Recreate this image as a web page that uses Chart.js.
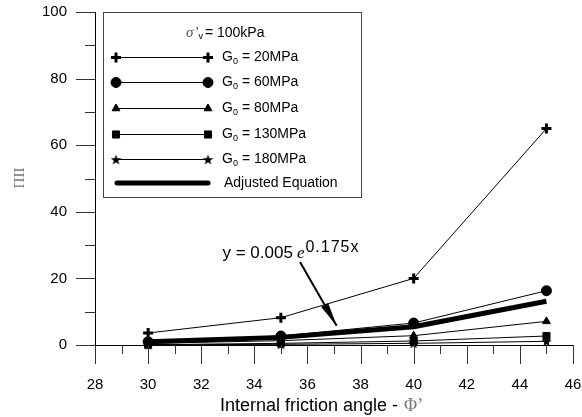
<!DOCTYPE html>
<html>
<head>
<meta charset="utf-8">
<script src="https://cdn.jsdelivr.net/npm/chart.js@4.4.0/dist/chart.umd.min.js"></script>
<style>
  html, body { margin: 0; padding: 0; background: #fff; }
  #wrap { width: 582px; height: 417px; }
</style>
</head>
<body>
<div id="wrap"><canvas id="chart" width="582" height="417"></canvas></div>
<script>
// friction angle (deg) on x, Pi_II on y
const angles = [30, 35, 40, 45];
const g20 = [3.6, 8.2, 20.0, 65.0];
const g60 = [1.0, 2.7, 6.6, 16.3];
const g80 = [0.5, 1.3, 2.8, 7.1];
const g130 = [0.1, 0.5, 1.2, 2.7];
const g180 = [0.05, 0.2, 0.5, 1.1];
const fitted = [0.95, 2.29, 5.48, 13.15];

const xTicks = [28, 30, 32, 34, 36, 38, 40, 42, 44, 46];
const yTicks = [0, 20, 40, 60, 80, 100];

const legendLabels = ['20MPa', '60MPa', '80MPa', '130MPa', '180MPa'];

const FONT = '"Liberation Sans", Arial, Helvetica, sans-serif';
const SERIF = '"Liberation Serif", "DejaVu Serif", serif';

// filled five point star, used as pointStyle
function makeStar(size) {
    const c = document.createElement('canvas');
    c.width = size; c.height = size;
    const g = c.getContext('2d');
    const cx = size / 2, cy = size / 2 + 0.5, R = size / 2, r = R * 0.42;
    g.beginPath();
    for (let i = 0; i < 10; i++) {
        const rad = i % 2 === 0 ? R : r;
        const a = -Math.PI / 2 + i * Math.PI / 5;
        g.lineTo(cx + rad * Math.cos(a), cy + rad * Math.sin(a));
    }
    g.closePath();
    g.fillStyle = '#000';
    g.fill();
    return c;
}
const star = makeStar(11);

function pts(ys) {
    return angles.map((a, i) => ({ x: a, y: ys[i] }));
}

const markers = [
    { pointStyle: 'cross', radius: 5, borderWidth: 3 },
    { pointStyle: 'circle', radius: 5, borderWidth: 1 },
    { pointStyle: 'triangle', radius: 4.5, borderWidth: 1 },
    { pointStyle: 'rect', radius: 5, borderWidth: 1 },
    { pointStyle: star, radius: 5, borderWidth: 1 }
];

const series = [g20, g60, g80, g130, g180];

const datasets = [{
    label: 'Adjusted Equation',
    data: pts(fitted),
    borderColor: '#000',
    borderWidth: 5,
    pointRadius: 0,
    fill: false,
    tension: 0,
    clip: false,
    order: 2
}];
series.forEach((s, i) => {
    datasets.push({
        label: 'G0 = ' + legendLabels[i],
        data: pts(s),
        borderColor: '#000',
        backgroundColor: '#000',
        borderWidth: 1,
        pointStyle: markers[i].pointStyle,
        pointRadius: markers[i].radius,
        pointBorderWidth: markers[i].borderWidth,
        pointBackgroundColor: '#000',
        pointBorderColor: '#000',
        fill: false,
        tension: 0,
        clip: false,
        order: 1
    });
});

function noPad(s) {
    s.paddingTop = 0;
    s.paddingBottom = 0;
    s.paddingLeft = 0;
    s.paddingRight = 0;
}

// minor + major tick marks, axis titles, legend box, equation note
const decor = {
    id: 'decor',
    afterDraw(chart) {
        const ctx = chart.ctx;
        const xs = chart.scales.x, ys = chart.scales.y;
        const area = chart.chartArea;
        ctx.save();
        ctx.strokeStyle = '#333';
        ctx.lineWidth = 1;
        for (let v = 28; v <= 46; v++) {
            const px = Math.round(xs.getPixelForValue(v)) + 0.5;
            const len = v % 2 === 0 ? 19 : 9;
            ctx.beginPath();
            ctx.moveTo(px, area.bottom);
            ctx.lineTo(px, area.bottom + len);
            ctx.stroke();
        }
        for (let v = 0; v <= 100; v += 10) {
            const py = Math.round(ys.getPixelForValue(v)) + 0.5;
            const len = v % 20 === 0 ? 19 : 10;
            ctx.beginPath();
            ctx.moveTo(area.left, py);
            ctx.lineTo(area.left - len, py);
            ctx.stroke();
        }

        // x title
        ctx.fillStyle = '#000';
        ctx.textBaseline = 'alphabetic';
        const t1 = 'Internal friction angle - ';
        ctx.font = '18px ' + FONT;
        const w1 = ctx.measureText(t1).width;
        ctx.font = '18px ' + SERIF;
        const w2 = ctx.measureText('\u03A6\u2019').width;
        const startX = (area.left + area.right) / 2 - (w1 + w2) / 2 - 13;
        ctx.font = '18px ' + FONT;
        ctx.fillText(t1, startX, 411);
        ctx.fillStyle = '#777';
        ctx.font = '18px ' + SERIF;
        ctx.fillText('\u03A6\u2019', startX + w1 + 1, 411);

        // y title
        ctx.save();
        ctx.translate(24, 178);
        ctx.rotate(-Math.PI / 2);
        ctx.fillStyle = '#777';
        ctx.font = '15px ' + SERIF;
        ctx.textAlign = 'center';
        ctx.fillText('\u03A0II', 0, 0);
        ctx.restore();

        // legend box
        ctx.fillStyle = '#fff';
        ctx.fillRect(104, 13, 257, 184);
        ctx.strokeStyle = '#444';
        ctx.lineWidth = 1;
        ctx.strokeRect(103.5, 12.5, 258, 185);

        ctx.textBaseline = 'middle';
        ctx.font = 'italic 15px ' + SERIF;
        ctx.fillStyle = '#555';
        ctx.fillText('\u03C3\u2019', 186, 33);
        let hx = 186 + ctx.measureText('\u03C3\u2019').width;
        ctx.fillStyle = '#000';
        ctx.font = '9px ' + FONT;
        ctx.fillText('v', hx, 37);
        hx += ctx.measureText('v').width + 2;
        ctx.font = '14px ' + FONT;
        ctx.fillText('= 100kPa', hx, 33);

        const rowsY = [57, 82, 108, 134, 159];
        const x0 = 116, x1 = 208, tx = 222;
        rowsY.forEach((ry, i) => {
            ctx.strokeStyle = '#000';
            ctx.lineWidth = 1;
            ctx.beginPath();
            ctx.moveTo(x0, ry + 0.5);
            ctx.lineTo(x1, ry + 0.5);
            ctx.stroke();
            ctx.fillStyle = '#000';
            const m = markers[i];
            [x0, x1].forEach(mx => {
                ctx.lineWidth = m.borderWidth;
                Chart.helpers.drawPoint(ctx, {
                    pointStyle: m.pointStyle,
                    radius: m.radius,
                    rotation: 0,
                    borderWidth: m.borderWidth
                }, mx, ry + 0.5);
            });
            ctx.fillStyle = '#000';
            ctx.font = '14px ' + FONT;
            ctx.fillText('G', tx, ry);
            let cx = tx + ctx.measureText('G').width;
            ctx.font = '9px ' + FONT;
            ctx.fillText('0', cx, ry + 5);
            cx += ctx.measureText('0').width + 4;
            ctx.font = '14px ' + FONT;
            ctx.fillText('= ' + legendLabels[i], cx, ry);
        });
        ctx.strokeStyle = '#000';
        ctx.lineWidth = 5;
        ctx.lineCap = 'round';
        ctx.beginPath();
        ctx.moveTo(117, 183);
        ctx.lineTo(208, 183);
        ctx.stroke();
        ctx.lineCap = 'butt';
        ctx.font = '14px ' + FONT;
        ctx.fillText('Adjusted Equation', 224, 183);

        // equation note with arrow
        const ax = xs.getPixelForValue(35.72), ay = ys.getPixelForValue(24.9);
        const bx = xs.getPixelForValue(37.1), by = ys.getPixelForValue(5.8);
        ctx.strokeStyle = '#000';
        ctx.lineWidth = 2;
        ctx.beginPath();
        ctx.moveTo(ax, ay);
        ctx.lineTo(bx, by);
        ctx.stroke();
        const ang = Math.atan2(by - ay, bx - ax);
        const hl = 24, hw = 4;
        const bxh = bx - hl * Math.cos(ang), byh = by - hl * Math.sin(ang);
        ctx.fillStyle = '#000';
        ctx.beginPath();
        ctx.moveTo(bx, by);
        ctx.lineTo(bxh + hw * Math.sin(ang), byh - hw * Math.cos(ang));
        ctx.lineTo(bxh - hw * Math.sin(ang), byh + hw * Math.cos(ang));
        ctx.closePath();
        ctx.fill();

        const ex = xs.getPixelForValue(32.8), ey = ys.getPixelForValue(26.1);
        ctx.textBaseline = 'alphabetic';
        ctx.font = '17px ' + FONT;
        ctx.fillText('y = 0.005', ex, ey);
        let qx = ex + ctx.measureText('y = 0.005').width + 4;
        ctx.font = 'italic 17px ' + SERIF;
        ctx.fillText('e', qx, ey);
        qx += ctx.measureText('e').width + 1;
        ctx.font = '16px ' + FONT;
        ctx.letterSpacing = '1px';
        ctx.fillText('0.175x', qx, ey - 6);
        ctx.letterSpacing = '0px';
        ctx.restore();
    }
};

new Chart(document.getElementById('chart'), {
    type: 'line',
    data: { datasets: datasets },
    options: {
        responsive: false,
        animation: false,
        devicePixelRatio: 1,
        layout: { padding: { left: 0, top: 12, right: 9, bottom: 0 } },
        plugins: { legend: { display: false }, tooltip: { enabled: false } },
        scales: {
            x: {
                type: 'linear',
                min: 28,
                max: 46,
                afterFit: s => { s.height = 72; noPad(s); },
                afterBuildTicks: s => { s.ticks = xTicks.map(v => ({ value: v })); },
                grid: { display: true, drawOnChartArea: false, drawTicks: false },
                border: { display: true, color: '#000', width: 1 },
                ticks: { color: '#000', padding: 31, maxRotation: 0, font: { family: FONT, size: 15 } }
            },
            y: {
                min: 0,
                max: 100,
                afterFit: s => { s.width = 95; noPad(s); },
                afterBuildTicks: s => { s.ticks = yTicks.map(v => ({ value: v })); },
                grid: { display: true, drawOnChartArea: false, drawTicks: false },
                border: { display: true, color: '#000', width: 1 },
                ticks: { color: '#000', padding: 28, font: { family: FONT, size: 15 } }
            }
        }
    },
    plugins: [decor]
});
</script>
</body>
</html>
